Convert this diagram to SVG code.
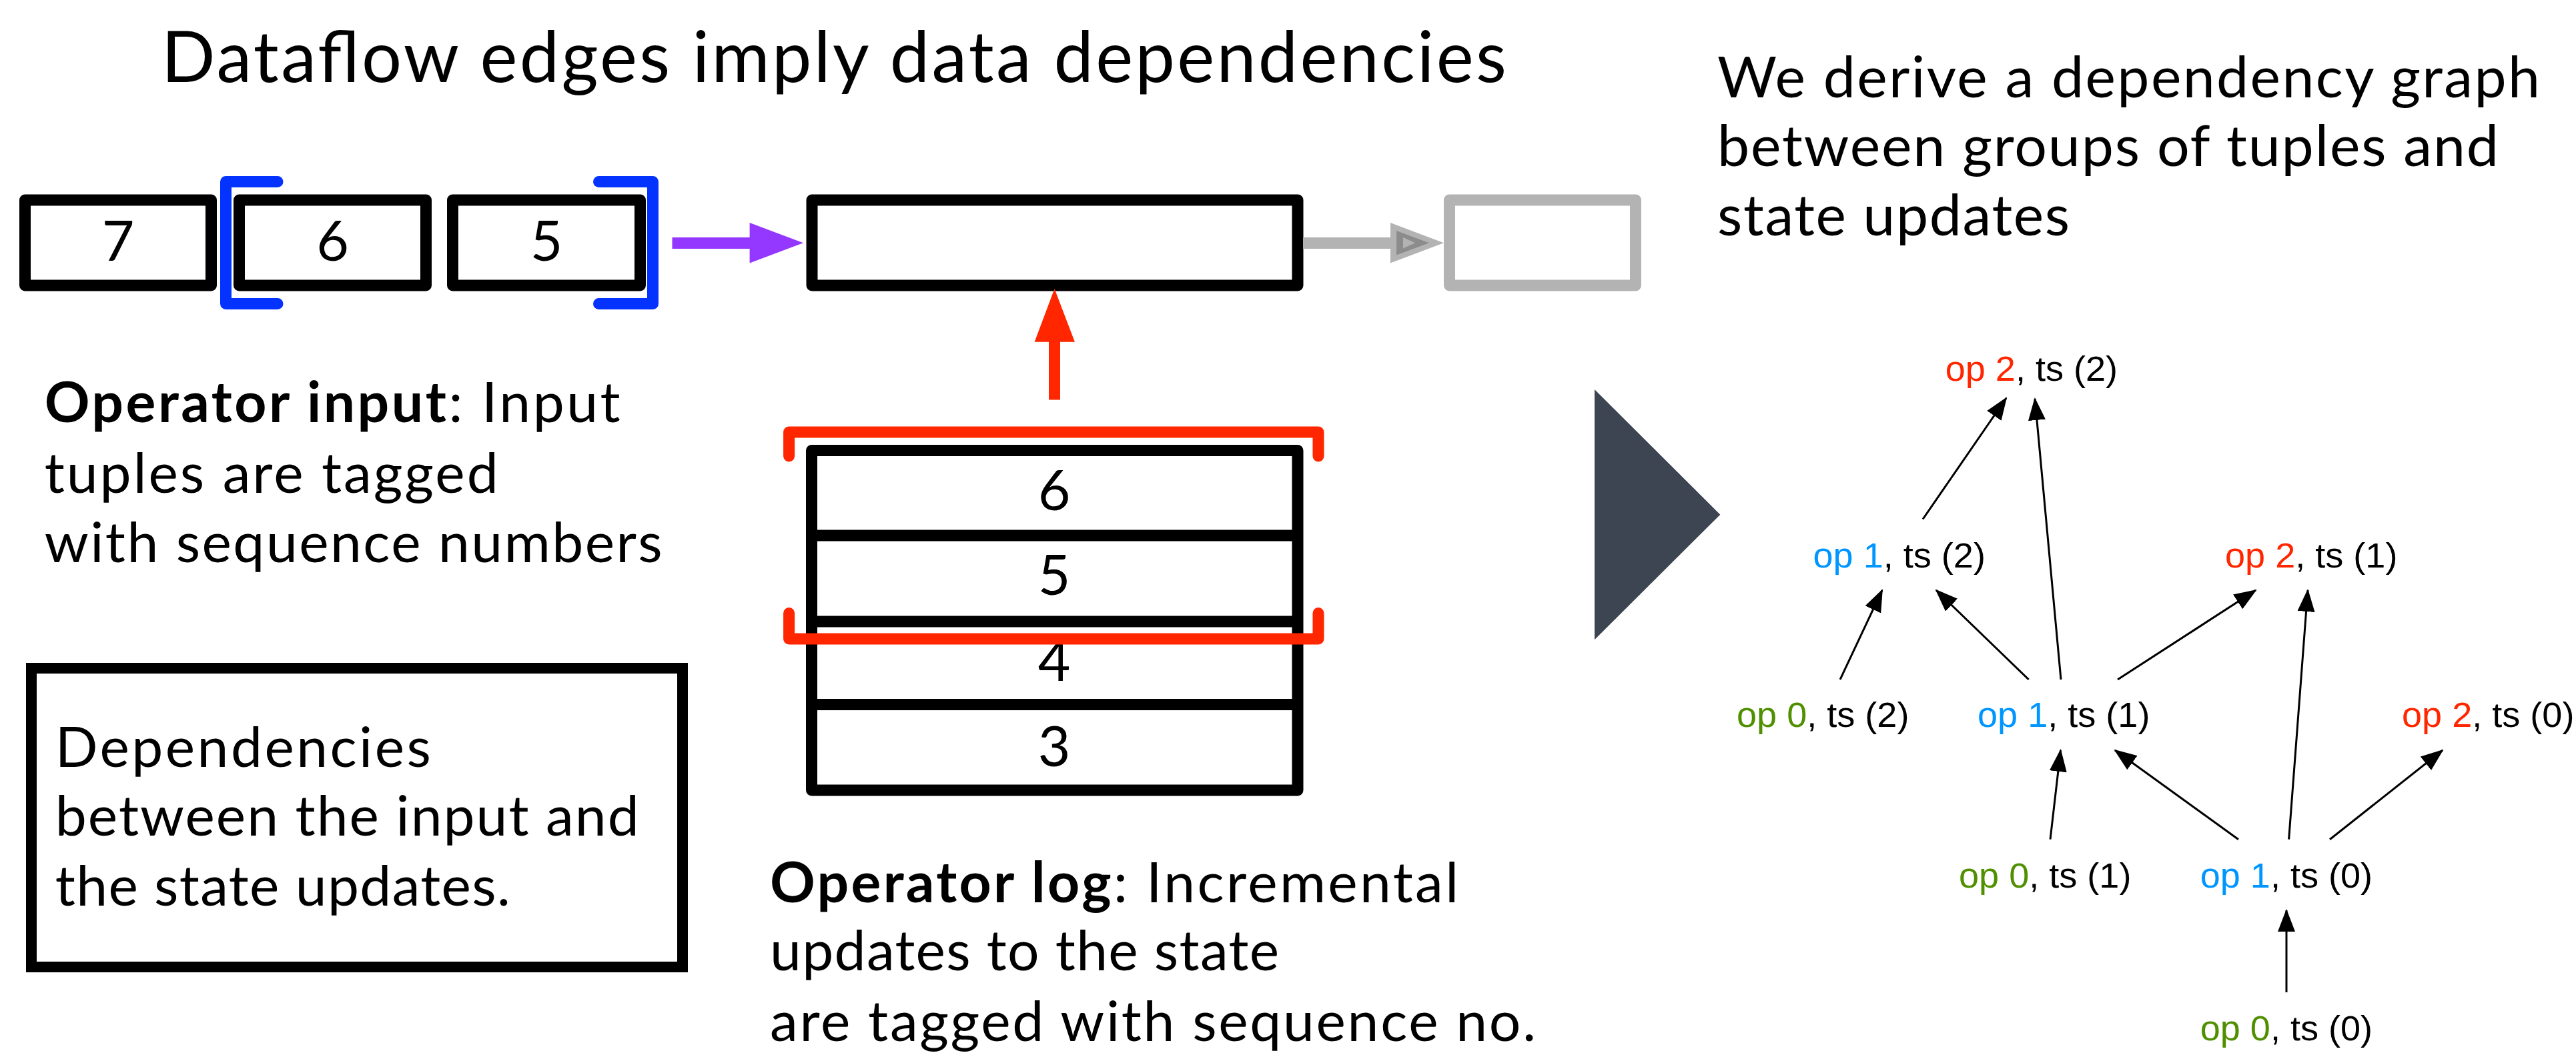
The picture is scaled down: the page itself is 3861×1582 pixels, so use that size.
<svg xmlns="http://www.w3.org/2000/svg" width="3861" height="1582" viewBox="0 0 3861 1582">
<defs>
<style>
.av{font-family:Lato,"Noto Sans","Liberation Sans",sans-serif;fill:#000}
.t{font-size:106px;font-weight:400}
.r{font-size:86px;font-weight:400}
.b{font-size:84px}
.num{font-size:84px;text-anchor:middle}
.bold{font-weight:700}
.box{fill:#fff;stroke:#000;stroke-width:17;stroke-linejoin:round}
.gbox{fill:#fff;stroke:#b3b3b3;stroke-width:17;stroke-linejoin:round}
.g{font-family:"Liberation Sans",Arial,Helvetica,sans-serif;font-size:51px;fill:#000}
.red{fill:#ff2600}.blue{fill:#0096ff}.green{fill:#4f8f00}
.edge{stroke:#000;stroke-width:3;fill:none;marker-end:url(#ah)}
</style>
<marker id="ah" markerUnits="userSpaceOnUse" markerWidth="34" markerHeight="26" viewBox="0 0 34 26" refX="32" refY="13" orient="auto">
<path d="M0,0 L34,13 L0,26 Z" fill="#000"/>
</marker>
</defs>
<rect width="3861" height="1582" fill="#fff"/>

<g id="title"><text class="av t" x="242" y="123" textLength="2016" lengthAdjust="spacing">Dataflow edges imply data dependencies</text></g>

<g id="right-text">
<text class="av r" x="2574" y="146" textLength="1233" lengthAdjust="spacing">We derive a dependency graph</text>
<text class="av r" x="2574" y="249" textLength="1171" lengthAdjust="spacing">between groups of tuples and</text>
<text class="av r" x="2574" y="353" textLength="528" lengthAdjust="spacing">state updates</text>
</g>

<g id="input-tuples">
<g id="tuple-7"><rect class="box" x="37.5" y="300" width="279" height="128"/><text class="av num" x="177" y="391">7</text></g>
<g id="tuple-6"><rect class="box" x="358.5" y="300" width="280" height="128"/><text class="av num" x="498.5" y="391">6</text></g>
<g id="tuple-5"><rect class="box" x="678.5" y="300" width="281" height="128"/><text class="av num" x="819" y="391">5</text></g>
</g>
<g id="blue-bracket" fill="none" stroke="#0433ff" stroke-width="17" stroke-linejoin="round" stroke-linecap="round">
<polyline points="416,272.5 338.5,272.5 338.5,455.5 416,455.5"/>
<polyline points="897.5,272.5 978.5,272.5 978.5,455.5 897.5,455.5"/>
</g>

<g id="operator"><rect class="box" x="1217" y="300" width="728" height="128"/></g>
<g id="next-operator"><rect class="gbox" x="2172.5" y="300" width="279" height="128"/></g>

<g id="operator-log">
<rect class="box" x="1216.5" y="675.5" width="728.5" height="509.5"/>
<g stroke="#000" stroke-width="17">
<line x1="1216.5" y1="803" x2="1945" y2="803"/>
<line x1="1216.5" y1="932" x2="1945" y2="932"/>
<line x1="1216.5" y1="1056.5" x2="1945" y2="1056.5"/>
</g>
<text class="av num" x="1580" y="765">6</text>
<text class="av num" x="1580" y="892">5</text>
<text class="av num" x="1580" y="1021">4</text>
<text class="av num" x="1580" y="1149">3</text>
</g>
<g id="red-bracket" fill="none" stroke="#ff2600" stroke-width="17" stroke-linejoin="round" stroke-linecap="round">
<polyline points="1182.6,684 1182.6,648 1976,648 1976,684"/>
<polyline points="1182.6,919.5 1182.6,958 1976,958 1976,919.5"/>
</g>

<g id="connectors">
<g id="purple-arrow" fill="#9437ff">
<rect x="1007.5" y="356" width="118" height="17"/>
<polygon points="1123.6,334 1204,364.3 1123.6,394.6"/>
</g>
<g id="grey-arrow">
<rect x="1953" y="356" width="134" height="17" fill="#b3b3b3"/>
<polygon points="2084,334 2164,364.3 2084,394.6" fill="#b3b3b3"/>
<polygon points="2093,346 2142,364.3 2093,382.6" fill="#8c8c8c"/>
<polygon points="2103,356 2121,364.3 2103,372.6" fill="#b3b3b3"/>
</g>
<g id="red-arrow" fill="#ff2600">
<rect x="1572" y="510" width="17" height="89.5"/>
<polygon points="1550.6,512.8 1580.5,433 1611,512.8"/>
</g>
<g id="graph-edges">
<line class="edge" x1="2882" y1="778.5" x2="3007" y2="597"/>
<line class="edge" x1="3089" y1="1019" x2="3050" y2="598"/>
<line class="edge" x1="2758" y1="1019" x2="2821" y2="885"/>
<line class="edge" x1="3040.7" y1="1019" x2="2902" y2="885"/>
<line class="edge" x1="3174" y1="1019" x2="3381" y2="885"/>
<line class="edge" x1="3430.6" y1="1258.7" x2="3459" y2="885"/>
<line class="edge" x1="3073" y1="1258.7" x2="3088.5" y2="1125"/>
<line class="edge" x1="3355" y1="1258.7" x2="3170" y2="1125"/>
<line class="edge" x1="3492" y1="1258.7" x2="3661" y2="1125"/>
<line class="edge" x1="3427" y1="1488" x2="3427" y2="1365"/>
</g>
</g>

<g id="arrow-triangle"><polygon points="2390,584 2578.3,771.7 2390,959.3" fill="#3d4452"/></g>

<g id="input-label">
<text class="av b" x="66.7" y="633" textLength="863" lengthAdjust="spacing"><tspan class="bold">Operator input</tspan>: Input</text>
<text class="av b" x="66.7" y="739" textLength="680" lengthAdjust="spacing">tuples are tagged</text>
<text class="av b" x="66.7" y="843" textLength="926" lengthAdjust="spacing">with sequence numbers</text>
</g>

<g id="dependencies-box">
<rect x="47" y="1002" width="976" height="448" fill="none" stroke="#000" stroke-width="16"/>
<text class="av b" x="82.8" y="1150" textLength="563" lengthAdjust="spacing">Dependencies</text>
<text class="av b" x="82.8" y="1253" textLength="875" lengthAdjust="spacing">between the input and</text>
<text class="av b" x="82.8" y="1358" textLength="682" lengthAdjust="spacing">the state updates.</text>
</g>

<g id="log-label">
<text class="av b" x="1154" y="1353" textLength="1032" lengthAdjust="spacing"><tspan class="bold">Operator log</tspan>: Incremental</text>
<text class="av b" x="1154" y="1455" textLength="763" lengthAdjust="spacing">updates to the state</text>
<text class="av b" x="1154" y="1561" textLength="1148" lengthAdjust="spacing">are tagged with sequence no.</text>
</g>

<g id="n-op2-ts2" transform="translate(2915.7,571) scale(1.06,1)"><text class="g"><tspan class="red">op 2</tspan>, ts (2)</text></g>
<g id="n-op1-ts2" transform="translate(2717.5,851) scale(1.06,1)"><text class="g"><tspan class="blue">op 1</tspan>, ts (2)</text></g>
<g id="n-op2-ts1" transform="translate(3335,851) scale(1.06,1)"><text class="g"><tspan class="red">op 2</tspan>, ts (1)</text></g>
<g id="n-op0-ts2" transform="translate(2603,1090) scale(1.06,1)"><text class="g"><tspan class="green">op 0</tspan>, ts (2)</text></g>
<g id="n-op1-ts1" transform="translate(2964,1090) scale(1.06,1)"><text class="g"><tspan class="blue">op 1</tspan>, ts (1)</text></g>
<g id="n-op2-ts0" transform="translate(3600,1090) scale(1.06,1)"><text class="g"><tspan class="red">op 2</tspan>, ts (0)</text></g>
<g id="n-op0-ts1" transform="translate(2936,1331) scale(1.06,1)"><text class="g"><tspan class="green">op 0</tspan>, ts (1)</text></g>
<g id="n-op1-ts0" transform="translate(3297.7,1331) scale(1.06,1)"><text class="g"><tspan class="blue">op 1</tspan>, ts (0)</text></g>
<g id="n-op0-ts0" transform="translate(3297.7,1560) scale(1.06,1)"><text class="g"><tspan class="green">op 0</tspan>, ts (0)</text></g>
</svg>
